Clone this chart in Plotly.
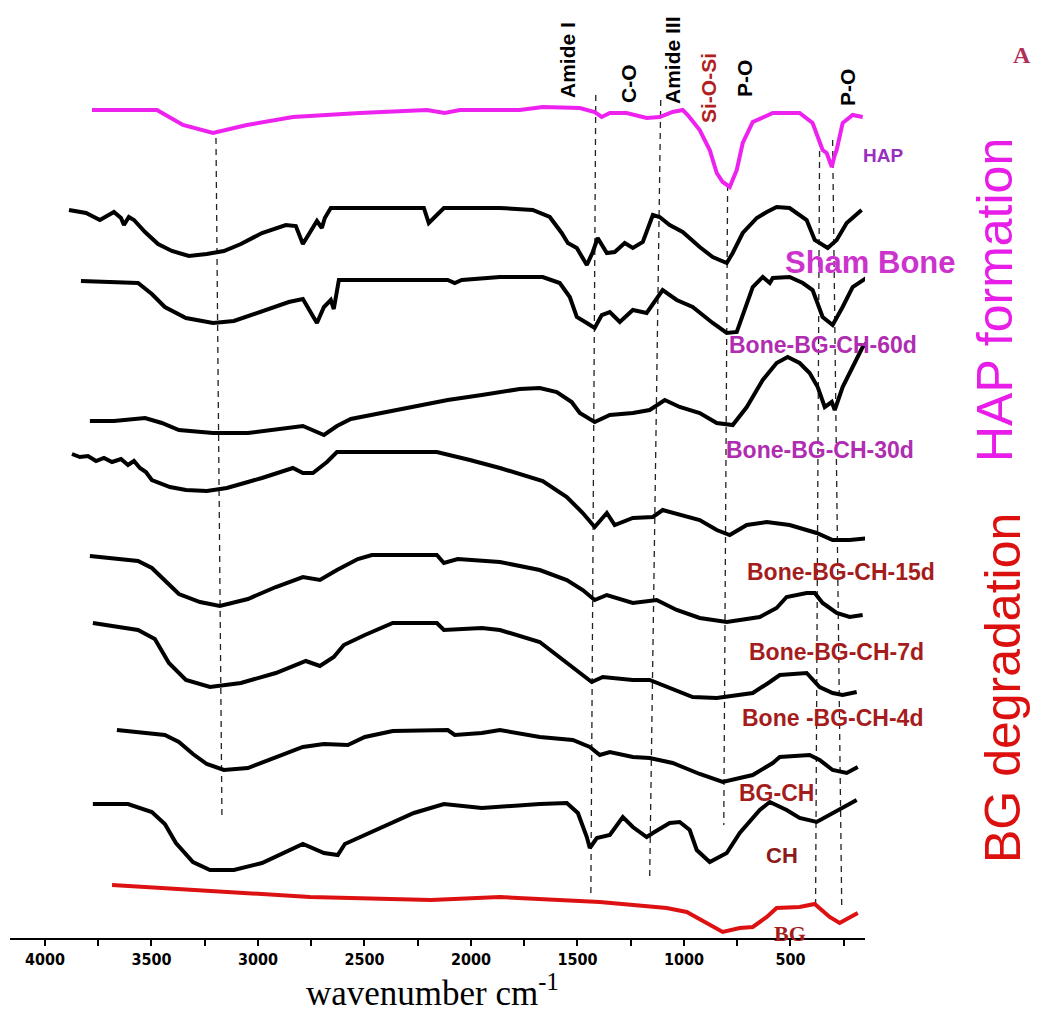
import plotly.graph_objects as go

# ---- x-axis ticks ----
x_tick_vals = [4000, 3500, 3000, 2500, 2000, 1500, 1000, 500]
x_tick_text = ["4000", "3500", "3000", "2500", "2000", "1500", "1000", "500"]
x_minor_vals = [3750, 3250, 2750, 2250, 1750, 1250, 750, 250]

# ---- spectra (wavenumber, offset transmittance a.u.) ----
hap_wn = [3779, 3474, 3352, 3211, 3052, 2836, 2522, 2207, 2123, 2052, 1771, 1663, 1489, 1419, 1386, 1348,
          1269, 1175, 1114, 1053, 1006, 982, 926, 879, 846, 818, 785, 752, 724, 677, 583, 457, 396, 363,
          349, 330, 316, 306, 292, 283, 255, 208, 161]
hap_t = [828, 828, 813, 805, 813, 821, 825, 828, 825, 828, 828, 831, 830, 826, 821, 825,
         825, 820, 821, 826, 828, 823, 808, 788, 765, 756, 751, 768, 795, 816, 825, 825, 815, 795,
         788, 785, 775, 771, 783, 788, 815, 823, 821]

sham_wn = [3887, 3807, 3742, 3676, 3643, 3629, 3606, 3582, 3530, 3469, 3404, 3324, 3240, 3160, 3080, 2981,
           2869, 2822, 2789, 2756, 2723, 2700, 2686, 2658, 2221, 2198, 2174, 2127, 1864, 1710, 1630, 1574,
           1545, 1503, 1456, 1428, 1405, 1362, 1325, 1278, 1240, 1193, 1146, 1114, 1067, 1006, 926, 865,
           799, 771, 724, 658, 611, 565, 504, 424, 386, 325, 283, 236, 166]
sham_t = [728, 725, 718, 726, 720, 713, 721, 718, 706, 694, 687, 682, 684, 687, 694, 705,
          713, 712, 694, 706, 717, 710, 720, 730, 730, 715, 720, 730, 730, 728, 721, 705,
          695, 690, 673, 686, 700, 685, 686, 695, 690, 696, 723, 721, 713, 706, 691, 681,
          675, 685, 705, 720, 726, 731, 730, 718, 698, 690, 698, 715, 728]

d60_wn = [3831, 3662, 3563, 3498, 3437, 3338, 3211, 3113, 2981, 2855, 2789, 2756, 2723, 2690, 2658, 2644,
          2620, 2109, 2076, 2043, 1864, 1663, 1583, 1536, 1503, 1456, 1419, 1386, 1348, 1301, 1240, 1175,
          1100, 1034, 959, 865, 799, 752, 677, 630, 597, 583, 504, 442, 396, 349, 302, 255, 208, 137]
d60_t = [657, 656, 655, 644, 631, 620, 615, 617, 627, 636, 639, 627, 615, 631, 638, 629,
         658, 658, 655, 658, 661, 661, 655, 641, 621, 615, 610, 623, 626, 616, 628, 625,
         648, 638, 631, 615, 605, 606, 651, 661, 655, 660, 661, 655, 648, 621, 613, 631, 651, 661]

d30_wn = [3789, 3676, 3530, 3451, 3371, 3211, 3047, 2789, 2690, 2629, 2564, 2109, 1949, 1771, 1677, 1597,
          1527, 1489, 1419, 1348, 1240, 1161, 1090, 1020, 926, 846, 771, 705, 630, 565, 513, 457, 410,
          372, 339, 306, 292, 255, 208, 161, 128]
d30_t = [517, 517, 520, 515, 508, 505, 505, 512, 503, 512, 519, 538, 543, 549, 550, 546,
         536, 525, 516, 523, 525, 528, 538, 531, 525, 515, 513, 531, 558, 575, 581, 575, 565,
         551, 531, 536, 528, 551, 571, 591, 598]

d15_wn = [3873, 3836, 3798, 3760, 3723, 3685, 3643, 3610, 3582, 3554, 3526, 3498, 3413, 3338, 3240, 3146,
          3047, 2981, 2836, 2789, 2742, 2676, 2629, 2160, 2005, 1864, 1663, 1550, 1475, 1419, 1362, 1325,
          1240, 1146, 1100, 1020, 926, 846, 785, 705, 611, 504, 377, 302, 222, 128]
d15_t = [484, 481, 482, 477, 480, 476, 479, 473, 477, 470, 466, 458, 451, 448, 447, 450,
         456, 460, 470, 465, 465, 476, 486, 486, 478, 470, 457, 441, 425, 411, 425, 413,
         420, 421, 428, 423, 418, 408, 403, 413, 416, 413, 405, 398, 398, 400]

d7_wn = [3789, 3563, 3498, 3437, 3371, 3272, 3179, 3047, 2916, 2789, 2709, 2629, 2531, 2465, 2160, 2127,
         2062, 1864, 1677, 1550, 1475, 1419, 1362, 1240, 1128, 1034, 926, 799, 644, 565, 518, 424, 386,
         349, 283, 222, 161]
d7_t = [382, 377, 370, 358, 344, 336, 332, 339, 351, 361, 358, 368, 379, 383, 383, 375,
        379, 376, 368, 358, 348, 338, 343, 335, 338, 328, 320, 316, 321, 330, 341, 345, 345,
        335, 325, 321, 323]

d4_wn = [3775, 3563, 3484, 3418, 3338, 3225, 3080, 2916, 2775, 2709, 2644, 2597, 2498, 2367, 2160, 2127,
         1949, 1864, 1677, 1489, 1433, 1381, 1240, 1161, 1081, 959, 846, 677, 597, 550, 424, 363, 302,
         255, 189]
d4_t = [315, 308, 299, 275, 258, 251, 255, 265, 277, 272, 281, 293, 303, 315, 315, 308,
        310, 308, 296, 265, 256, 261, 258, 258, 251, 241, 240, 245, 256, 263, 265, 251, 245,
        243, 246]

bgch_wn = [3662, 3437, 3371, 3305, 3240, 3160, 3047, 2916, 2789, 2690, 2578, 2498, 2367, 2109, 2076, 1949,
           1864, 1677, 1522, 1442, 1395, 1348, 1240, 1161, 1053, 926, 818, 677, 583, 550, 410, 363, 302,
           236, 184]
bgch_t = [208, 203, 196, 184, 174, 168, 170, 181, 191, 194, 193, 201, 207, 208, 203, 205,
          208, 201, 198, 191, 183, 186, 181, 180, 175, 164, 156, 163, 175, 181, 183, 178, 168,
          165, 171]

ch_wn = [3775, 3610, 3498, 3437, 3385, 3305, 3225, 3113, 2981, 2789, 2690, 2625, 2592, 2432, 2268, 2127,
         1949, 1677, 1550, 1498, 1456, 1442, 1409, 1348, 1287, 1240, 1175, 1146, 1067, 1020, 973, 940,
         879, 799, 738, 644, 597, 518, 457, 377, 302, 189]
ch_t = [134, 134, 126, 114, 95, 76, 68, 68, 75, 94, 85, 83, 94, 109, 125, 134,
        130, 134, 135, 125, 101, 90, 100, 103, 121, 111, 101, 105, 115, 116, 108, 88,
        76, 85, 105, 128, 136, 128, 120, 116, 125, 138]

bg_wn = [3685, 3240, 2756, 2188, 1864, 1395, 1081, 987, 893, 818, 738, 677, 611, 565, 457, 386, 316, 269, 184]
bg_t = [53, 47, 41, 38, 41, 36, 30, 26, 15, 6, 10, 11, 21, 30, 31, 34, 21, 15, 25]

# ---- dashed band-assignment guides (top wn, top level, bottom wn, bottom level) ----
guide_wn_top = [3197, 1414, 1109, 795, 363, 302]
guide_t_top = [800, 843, 838, 753, 798, 798]
guide_wn_bot = [3169, 1437, 1161, 813, 382, 259]
guide_t_bot = [123, 43, 58, 113, 33, 28]

fig = go.Figure()

for i in range(len(guide_wn_top)):
    fig.add_trace(go.Scatter(x=[guide_wn_top[i], guide_wn_bot[i]], y=[guide_t_top[i], guide_t_bot[i]],
                             mode="lines", line=dict(color="#222222", width=1.3, dash="6px,5px"),
                             showlegend=False, hoverinfo="skip"))

series = [
    ("HAP", hap_wn, hap_t, "#ee22ee"),
    ("Sham Bone", sham_wn, sham_t, "black"),
    ("Bone-BG-CH-60d", d60_wn, d60_t, "black"),
    ("Bone-BG-CH-30d", d30_wn, d30_t, "black"),
    ("Bone-BG-CH-15d", d15_wn, d15_t, "black"),
    ("Bone-BG-CH-7d", d7_wn, d7_t, "black"),
    ("Bone-BG-CH-4d", d4_wn, d4_t, "black"),
    ("BG-CH", bgch_wn, bgch_t, "black"),
    ("CH", ch_wn, ch_t, "black"),
    ("BG", bg_wn, bg_t, "#dd1111"),
]
for name, xs, ys, col in series:
    fig.add_trace(go.Scatter(x=xs, y=ys, mode="lines", name=name,
                             line=dict(color=col, width=4), showlegend=False))

L, R, T, B = 10, 865, 0, 938


def P(px, py):
    return dict(x=(px - L) / (R - L), y=(B - py) / (B - T), xref="paper", yref="paper")


ann = []


def lab(text, px, py, size, color, angle=0, family="Liberation Sans, Arial", bold=True):
    d = P(px, py)
    d.update(text=text, showarrow=False, textangle=angle, xanchor="center", yanchor="middle",
             font=dict(family=family, size=size, color=color, weight="bold" if bold else "normal"))
    ann.append(d)


red = "#a51c1c"
mag = "#b02cb0"
lab("HAP", 883, 155, 19, "#9a2ec0")
lab("Sham Bone", 870, 262, 31, "#cc33cc")
lab("Bone-BG-CH-60d", 823, 345, 23, mag)
lab("Bone-BG-CH-30d", 820, 450, 23, mag)
lab("Bone-BG-CH-15d", 841, 572, 23, red)
lab("Bone-BG-CH-7d", 836, 652, 23, red)
lab("Bone -BG-CH-4d", 832, 718, 23, red)
lab("BG-CH", 776, 793, 23, red)
lab("CH", 782, 855, 22, "#8b1a1a")
lab("BG", 790, 933, 22, red, family="Liberation Serif, Times New Roman")

lab("Amide I", 568, 60, 21, "black", angle=-90)
lab("C-O", 628, 84, 21, "black", angle=-90)
lab("Amide III", 673, 60, 21, "black", angle=-90)
lab("Si-O-Si", 708, 88, 21, "#b02020", angle=-90)
lab("P-O", 745, 79, 21, "black", angle=-90)
lab("P-O", 847, 88, 21, "black", angle=-90)

lab("HAP formation", 995, 300, 50, "#e81ee8", angle=-90, bold=False)
lab("BG degradation", 1003, 688, 50, "#dd1010", angle=-90, bold=False)
lab("A", 1022, 55, 24, "#b0305a", family="Liberation Serif, Times New Roman")

lab("wavenumber cm<sup>-1</sup>", 432, 990, 35, "black", family="Liberation Serif, Times New Roman", bold=False)

fig.update_layout(
    width=1037, height=1016,
    margin=dict(l=L, r=1037 - R, t=T, b=1016 - B),
    paper_bgcolor="white", plot_bgcolor="white",
    annotations=ann,
    xaxis=dict(range=[4164, 150], tickmode="array", tickvals=x_tick_vals, ticktext=x_tick_text,
               ticks="outside", ticklen=6, tickwidth=1.5, tickcolor="black",
               showline=True, linecolor="black", linewidth=2, showgrid=False, zeroline=False,
               tickfont=dict(family="DejaVu Sans Condensed, Liberation Sans Narrow", size=16,
                             color="black", weight="bold"),
               minor=dict(tickmode="array", tickvals=x_minor_vals, ticks="outside", ticklen=6,
                          tickwidth=1.5, tickcolor="black", showgrid=False)),
    yaxis=dict(range=[0, 938], visible=False, showgrid=False, zeroline=False),
)

fig.write_html("out.html")
